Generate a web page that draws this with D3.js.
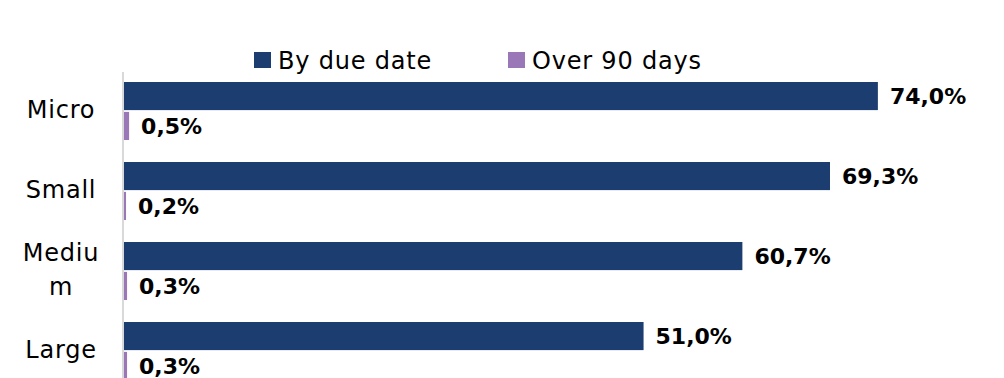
<!DOCTYPE html>
<html>
<head>
<meta charset="utf-8">
<script src="https://cdn.jsdelivr.net/npm/d3@7"></script>
<style>
  body { margin: 0; background: #fff; }
  text { font-family: "DejaVu Sans", sans-serif; }
</style>
</head>
<body>
<svg width="1004" height="378"></svg>
<script>
var categories = ["Micro", "Small", "Medium", "Large"];
var seriesNames = ["By due date", "Over 90 days"];
var byDueDate = [74.0, 69.3, 60.7, 51.0];
var over90Days = [0.5, 0.2, 0.3, 0.3];

var colors = ["#1c3d70", "#9a78b8"];

var svg = d3.select("svg"),
  axisX = 123;

var data = categories.map(function(c, i) {
  return { cat: c, values: [byDueDate[i], over90Days[i]] };
});

var x = d3.scaleLinear().domain([0, 80]).range([124, 939]);

var y = d3
  .scaleBand()
  .domain(categories)
  .range([71, 391])
  .paddingInner(0.275)
  .paddingOuter(0.1375);

var y1 = d3
  .scaleBand()
  .domain([0, 1])
  .range([0, y.bandwidth()])
  .paddingInner(0.06);

// axis
var axis = svg
  .append("g")
  .attr("transform", "translate(" + axisX + ",0)")
  .call(d3.axisLeft(y).tickSize(0).tickSizeOuter(0));

axis.select(".domain")
  .attr("stroke", "#d9d9d9")
  .attr("stroke-width", 2)
  .attr("d", "M0,72V378");

axis.selectAll(".tick text")
  .attr("text-anchor", "middle")
  .attr("x", -62)
  .attr("fill", "#000")
  .style("font-size", "24px")
  .style("letter-spacing", "0.8px")
  .each(function() {
    var t = d3.select(this),
      word = t.text(),
      lines = [],
      cur = "";
    t.text("");
    var probe = t.append("tspan");
    word.split("").forEach(function(ch) {
      probe.text(cur + ch);
      if (probe.node().getComputedTextLength() > 82 && cur) {
        lines.push(cur);
        cur = ch;
      } else {
        cur = cur + ch;
      }
    });
    lines.push(cur);
    probe.remove();
    var lh = 34;
    t.attr("dy", null);
    lines.forEach(function(l, k) {
      t.append("tspan")
        .attr("x", -62)
        .attr("y", (k - (lines.length - 1) / 2) * lh - 2)
        .attr("dy", "0.36em")
        .text(l);
    });
  });

// bars
var groups = svg
  .selectAll(".grp")
  .data(data)
  .enter()
  .append("g")
  .attr("class", "grp")
  .attr("transform", function(d) {
    return "translate(0," + y(d.cat) + ")";
  });

groups
  .selectAll("rect")
  .data(function(d) {
    return d.values;
  })
  .enter()
  .append("rect")
  .attr("x", x(0))
  .attr("y", function(d, i) {
    return y1(i);
  })
  .attr("width", function(d) {
    return x(d) - x(0);
  })
  .attr("height", y1.bandwidth())
  .attr("fill", function(d, i) {
    return colors[i];
  });

groups
  .selectAll(".lbl")
  .data(function(d) {
    return d.values;
  })
  .enter()
  .append("text")
  .attr("class", "lbl")
  .attr("x", function(d) {
    return x(d) + 12;
  })
  .attr("y", function(d, i) {
    return y1(i) + y1.bandwidth() / 2;
  })
  .attr("dy", "0.36em")
  .style("font-size", "22px")
  .style("font-weight", "bold")
  .attr("fill", "#000")
  .text(function(d) {
    return d.toFixed(1).replace(".", ",") + "%";
  });

// legend
var legendX = [254, 508];
var legend = svg
  .selectAll(".leg")
  .data(seriesNames)
  .enter()
  .append("g")
  .attr("class", "leg")
  .attr("transform", function(d, i) {
    return "translate(" + legendX[i] + ",52)";
  });

legend.append("rect")
  .attr("width", 17)
  .attr("height", 16)
  .attr("fill", function(d, i) {
    return colors[i];
  });

legend.append("text")
  .attr("x", 24)
  .attr("y", 8)
  .attr("dy", "0.36em")
  .style("font-size", "24px")
  .style("letter-spacing", "0.8px")
  .attr("fill", "#000")
  .text(function(d) {
    return d;
  });
</script>
</body>
</html>
